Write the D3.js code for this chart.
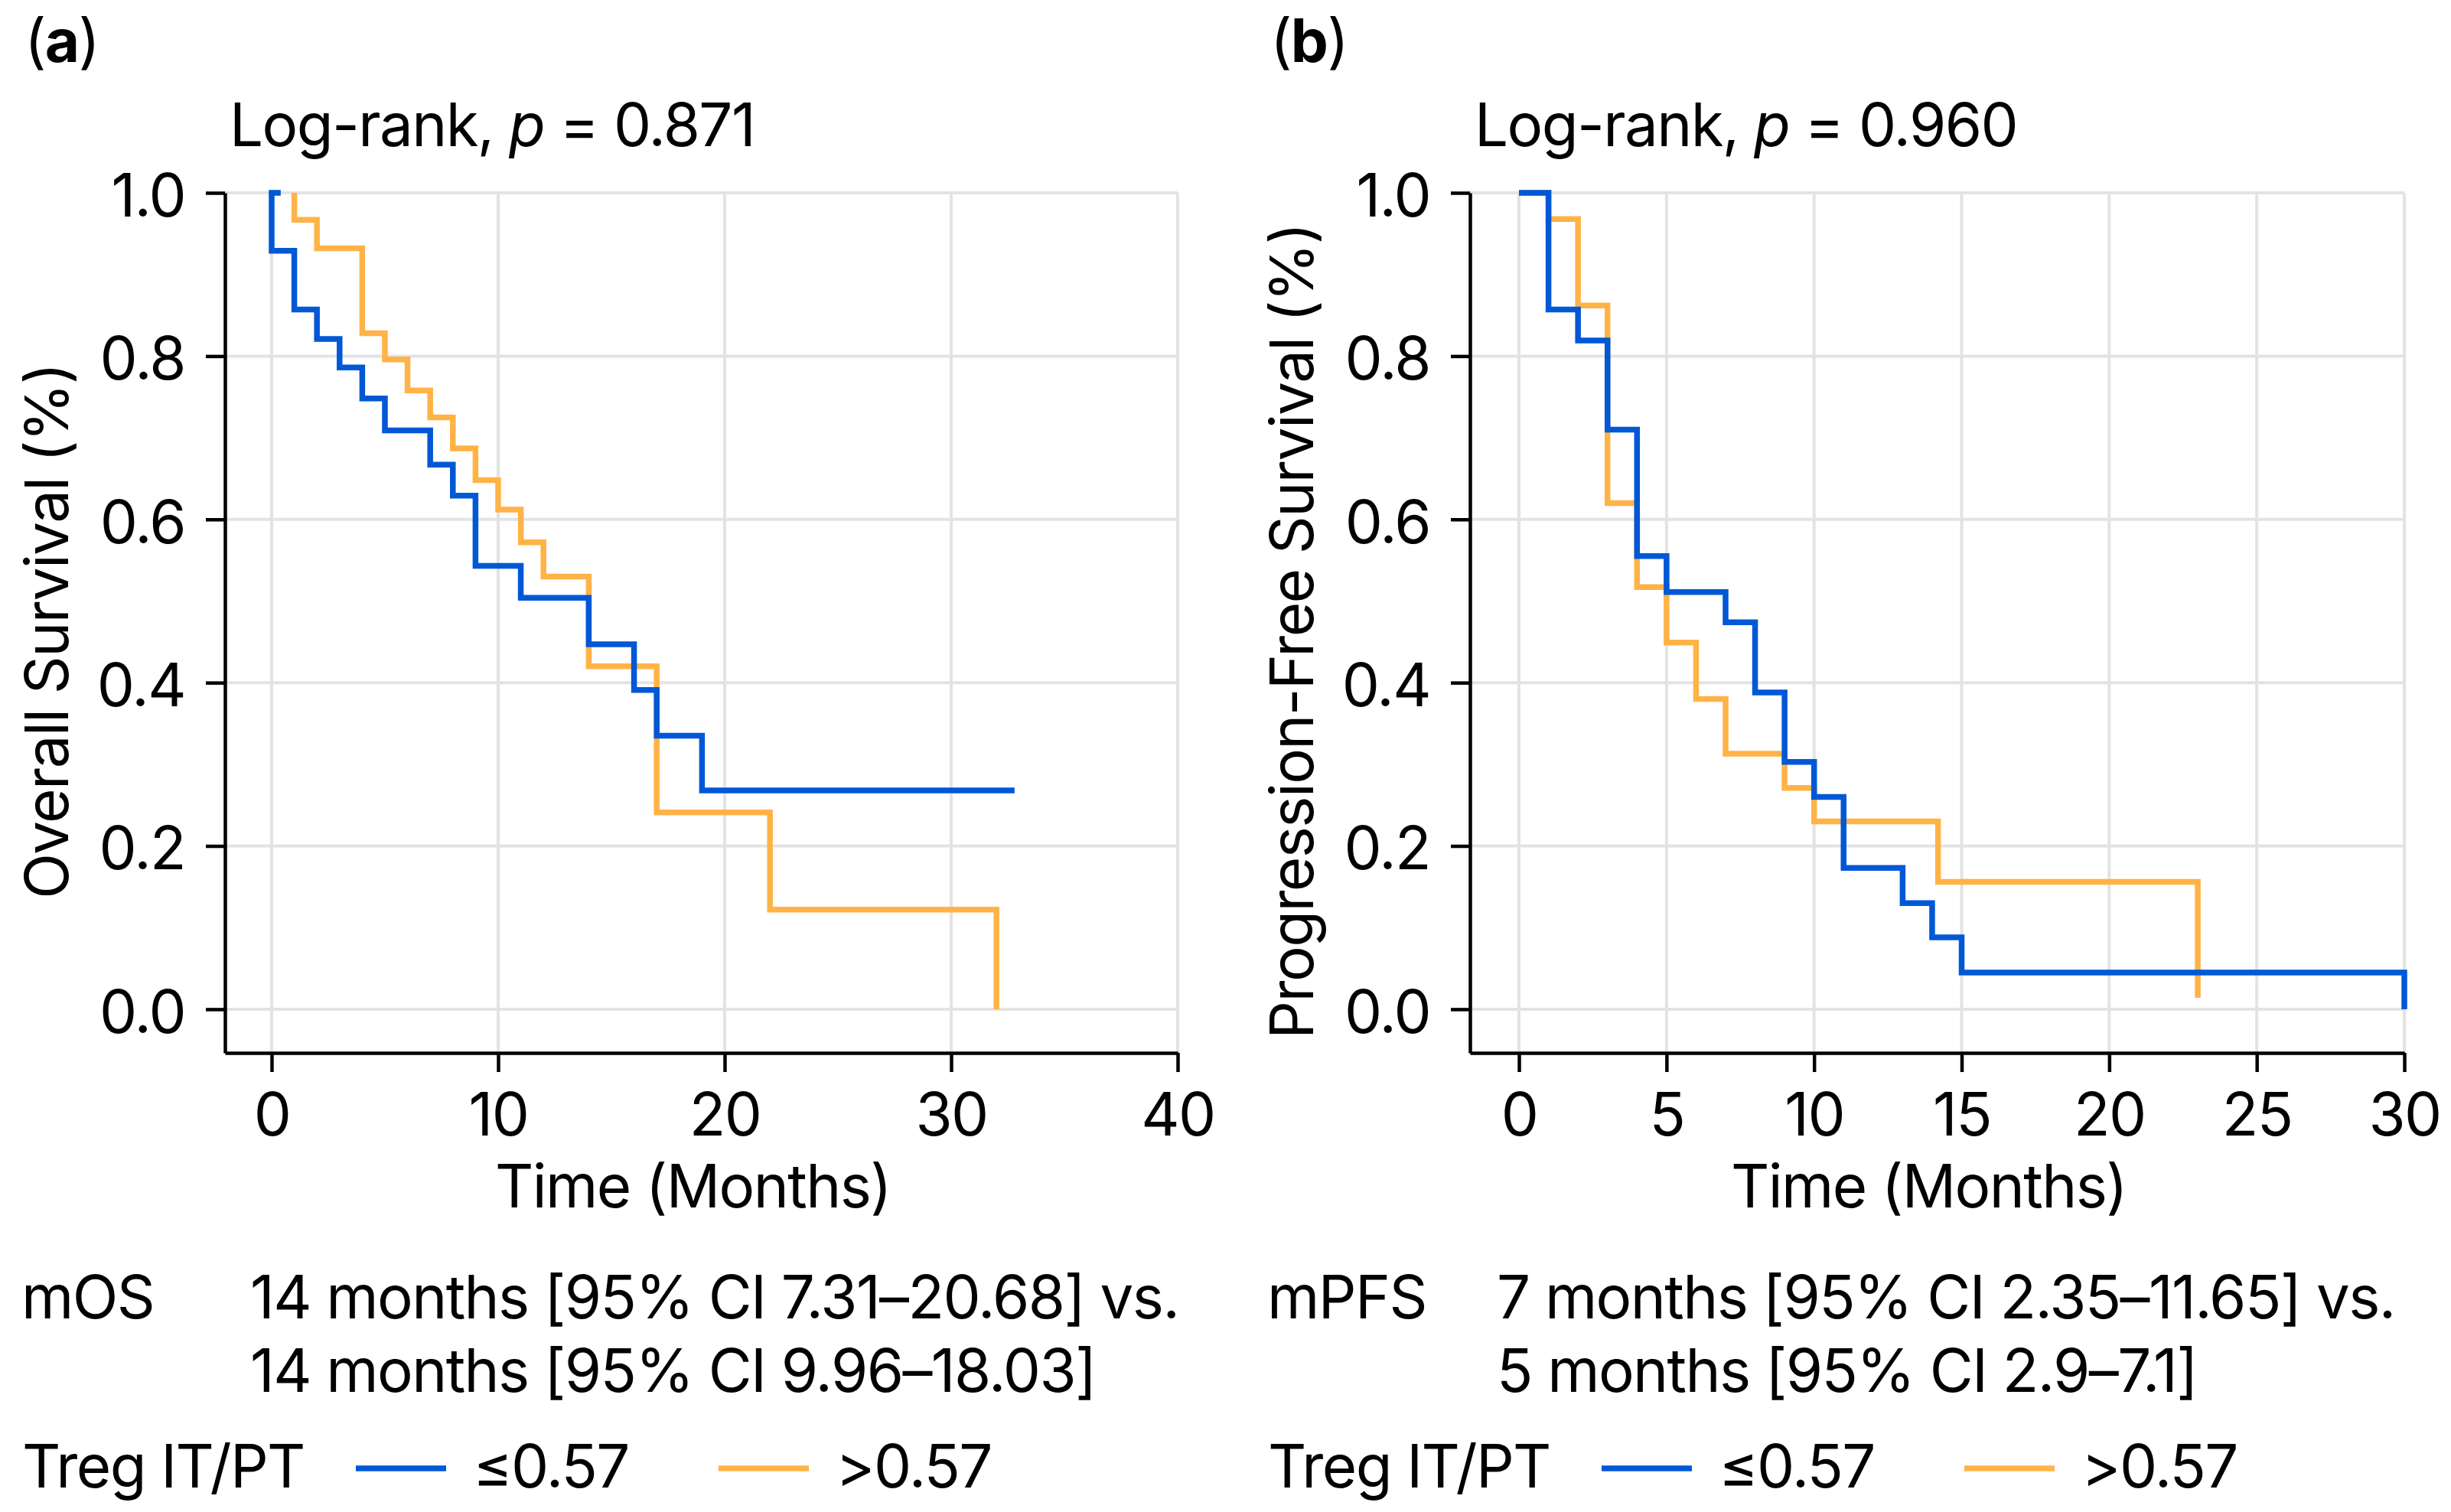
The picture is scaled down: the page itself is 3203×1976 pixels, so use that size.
<!DOCTYPE html>
<html>
<head>
<meta charset="utf-8">
<script src="https://cdn.jsdelivr.net/npm/d3@7"></script>
<style>
  body { margin: 0; background: #fff; }
  text { font-family: Inter, "Noto Sans", sans-serif; fill: #000; letter-spacing: -1.6px; }
</style>
</head>
<body>
<div id="chart"></div>
<script>
/**
 * CONSTANTS
 * */
const width = 3203,
  height = 1976,
  fontSize = 78,
  blue = "#0058d6",
  orange = "#ffb347",
  plotTop = 252,
  plotBottom = 1376;

/**
 * DATA - step times in months and survival after each step
 * */
// (a) overall survival
const osLowStart = [0.4, 1.0];
const osLowTimes = [0, 1, 2, 3, 4, 5, 7, 8, 9, 11, 14, 16, 17, 19, 32.8];
const osLowSurv = [0.929, 0.857, 0.821, 0.786, 0.748, 0.709, 0.667, 0.629, 0.543, 0.504, 0.447, 0.391, 0.335, 0.268, 0.268];
const osHighStart = [1, 1.0];
const osHighTimes = [1, 2, 4, 5, 6, 7, 8, 9, 10, 11, 12, 14, 17, 22, 32];
const osHighSurv = [0.967, 0.932, 0.828, 0.796, 0.758, 0.725, 0.687, 0.648, 0.612, 0.572, 0.530, 0.420, 0.241, 0.122, 0.0];

// (b) progression-free survival
const pfsLowStart = [0, 1.0];
const pfsLowTimes = [1, 2, 3, 4, 5, 7, 8, 9, 10, 11, 13, 14, 15, 30];
const pfsLowSurv = [0.857, 0.819, 0.710, 0.555, 0.511, 0.474, 0.388, 0.303, 0.260, 0.173, 0.130, 0.088, 0.045, 0.0];
const pfsHighStart = [0, 1.0];
const pfsHighTimes = [1, 2, 3, 4, 5, 6, 7, 9, 10, 14.2, 23];
const pfsHighSurv = [0.968, 0.862, 0.620, 0.517, 0.449, 0.380, 0.313, 0.271, 0.230, 0.156, 0.014];

// ticks & labels
const osXTicks = [0, 10, 20, 30, 40];
const pfsXTicks = [0, 5, 10, 15, 20, 25, 30];
const yTicks = [0, 0.2, 0.4, 0.6, 0.8, 1.0];
const groupLabels = ["\u22640.57", ">0.57"];
const legendTitle = "Treg IT/PT";

/**
 * build a step series from the arrays
 * */
function series(start, times, surv) {
  return [start].concat(times.map((t, i) => [t, surv[i]]));
}

const panels = [
  {
    tag: "a",
    dx: 0,
    left: 294, right: 1539,
    xDomain: [-2.06, 40],
    xTicks: osXTicks,
    p: "0.871",
    yLabel: "Overall Survival (%)",
    medLabel: "mOS",
    medX: 327,
    medLines: ["14 months [95% CI 7.31\u201320.68] vs.", "14 months [95% CI 9.96\u201318.03]"],
    low: series(osLowStart, osLowTimes, osLowSurv),
    high: series(osHighStart, osHighTimes, osHighSurv)
  },
  {
    tag: "b",
    dx: 1628,
    left: 1921, right: 3142,
    xDomain: [-1.66, 30],
    xTicks: pfsXTicks,
    p: "0.960",
    yLabel: "Progression-Free Survival (%)",
    medLabel: "mPFS",
    medX: 1956,
    medLines: ["7 months [95% CI 2.35\u201311.65] vs.", "5 months [95% CI 2.9\u20137.1]"],
    low: series(pfsLowStart, pfsLowTimes, pfsLowSurv),
    high: series(pfsHighStart, pfsHighTimes, pfsHighSurv)
  }
];

const svg = d3
  .select("#chart")
  .append("svg")
  .attr("width", width)
  .attr("height", height)
  .style("background", "#fff");

panels.forEach(drawPanel);

function drawPanel(pn) {
  const g = svg.append("g");

  const xScale = d3.scaleLinear().domain(pn.xDomain).range([pn.left, pn.right]);
  const yScale = d3.scaleLinear().domain([-0.0535, 1]).range([plotBottom, plotTop]);

  // GRID
  g.append("g")
    .selectAll("line")
    .data(pn.xTicks)
    .join("line")
    .attr("x1", d => xScale(d)).attr("x2", d => xScale(d))
    .attr("y1", plotTop).attr("y2", plotBottom)
    .attr("stroke", "#e3e3e3").attr("stroke-width", 4);
  g.append("g")
    .selectAll("line")
    .data(yTicks)
    .join("line")
    .attr("x1", pn.left).attr("x2", pn.right)
    .attr("y1", d => yScale(d)).attr("y2", d => yScale(d))
    .attr("stroke", "#e3e3e3").attr("stroke-width", 4);

  // AXES
  const xAxis = d3.axisBottom(xScale).tickValues(pn.xTicks).tickSize(25).tickSizeOuter(0).tickPadding(28);
  const yAxis = d3.axisLeft(yScale).tickValues(yTicks).tickFormat(d3.format(".1f")).tickSize(25).tickSizeOuter(0).tickPadding(27);

  const gx = g.append("g").attr("transform", `translate(0,${plotBottom})`).call(xAxis);
  const gy = g.append("g").attr("transform", `translate(${pn.left},0)`).call(yAxis);
  [gx, gy].forEach(a => {
    a.selectAll("path, line").attr("stroke", "#000").attr("stroke-width", 4.5);
    a.selectAll("text").attr("font-size", fontSize).attr("font-family", "Inter, sans-serif").attr("fill", "#000");
  });
  gy.selectAll("text").attr("dy", "0.39em");

  // CURVES
  const line = d3.line()
    .x(d => xScale(d[0]))
    .y(d => yScale(d[1]))
    .curve(d3.curveStepAfter);

  g.append("path").datum(pn.high)
    .attr("d", line).attr("fill", "none")
    .attr("stroke", orange).attr("stroke-width", 7.5);
  g.append("path").datum(pn.low)
    .attr("d", line).attr("fill", "none")
    .attr("stroke", blue).attr("stroke-width", 7.5);

  // TEXTS
  g.append("text")
    .attr("x", 32 + pn.dx).attr("y", 81)
    .attr("font-size", fontSize)
    .html(`(<tspan font-weight="700">${pn.tag}</tspan>)`);

  const title = g.append("text")
    .attr("x", pn.left + 6).attr("y", 191)
    .attr("font-size", fontSize);
  title.append("tspan").text("Log-rank, ");
  title.append("tspan").attr("font-style", "italic").text("p");
  title.append("tspan").text(` = ${pn.p}`);

  g.append("text")
    .attr("x", (pn.left + pn.right) / 2 - 11).attr("y", 1578)
    .attr("text-anchor", "middle")
    .attr("font-size", fontSize)
    .text("Time (Months)");

  g.append("text")
    .attr("transform", `translate(${pn.left - 205},825) rotate(-90)`)
    .attr("text-anchor", "middle")
    .attr("font-size", fontSize)
    .text(pn.yLabel);

  g.append("text")
    .attr("x", 28 + pn.dx).attr("y", 1723)
    .attr("font-size", fontSize)
    .text(pn.medLabel);
  g.append("g")
    .selectAll("text")
    .data(pn.medLines)
    .join("text")
    .attr("x", pn.medX)
    .attr("y", (d, i) => 1723 + i * 96)
    .attr("font-size", fontSize)
    .text(d => d);

  // LEGEND
  g.append("text")
    .attr("x", 29 + pn.dx).attr("y", 1944)
    .attr("font-size", fontSize)
    .text(legendTitle);
  const leg = g.append("g")
    .selectAll("g")
    .data(groupLabels)
    .join("g")
    .attr("transform", (d, i) => `translate(${465 + pn.dx + i * 474},1919)`);
  leg.append("line")
    .attr("x1", 0).attr("x2", 118)
    .attr("stroke", (d, i) => (i === 0 ? blue : orange))
    .attr("stroke-width", 7.5);
  leg.append("text")
    .attr("x", 153).attr("y", 25)
    .attr("font-size", fontSize)
    .text(d => d);
}
</script>
</body>
</html>
